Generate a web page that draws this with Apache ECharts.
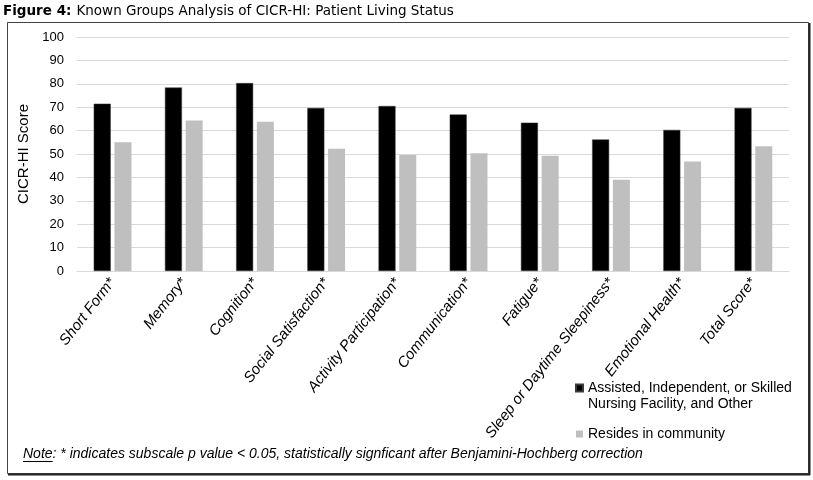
<!DOCTYPE html>
<html>
<head>
<meta charset="utf-8">
<script src="https://cdn.jsdelivr.net/npm/echarts@6/dist/echarts.min.js"></script>
<style>
html,body{margin:0;padding:0;background:#fff;}
#chart{width:813px;height:480px;}
</style>
</head>
<body>
<div id="chart"></div>
<script>
const categories = ['Short Form*','Memory*','Cognition*','Social Satisfaction*','Activity Participation*','Communication*','Fatigue*','Sleep or Daytime Sleepiness*','Emotional Health*','Total Score*'];
const facilityValues = [71.5, 78.4, 80.3, 69.7, 70.5, 66.9, 63.4, 56.2, 60.3, 69.7];
const communityValues = [55.0, 64.3, 63.8, 52.2, 49.6, 50.3, 49.2, 39.0, 46.8, 53.3];
const seriesNames = ['Assisted, Independent, or Skilled Nursing Facility, and Other', 'Resides in community'];
const yTicks = {min: 0, max: 100, interval: 10};

const noteLead = 'Note';
const noteRest = ': * indicates subscale p value < 0.05, statistically signficant after Benjamini-Hochberg correction';

const FONT = '"Liberation Sans", Arial, sans-serif';
const noteFontSize = 14;
const cv = document.createElement('canvas').getContext('2d');
cv.font = 'italic ' + noteFontSize + 'px "Liberation Sans"';
const noteLeadW = cv.measureText(noteLead).width;
const noteX = 23, noteY = 454;

const chart = echarts.init(document.getElementById('chart'));
chart.setOption({
  animation: false,
  backgroundColor: '#fff',
  title: {
    text: '{b|Figure 4:} {n|Known Groups Analysis of CICR-HI: Patient Living Status}',
    left: 3, top: 2, padding: 0,
    textStyle: {
      rich: {
        b: {fontFamily: '"DejaVu Sans", sans-serif', fontWeight: 'bold', fontSize: 13.5, color: '#000'},
        n: {fontFamily: '"DejaVu Sans", sans-serif', fontWeight: 'normal', fontSize: 13.5, color: '#000'}
      }
    }
  },
  grid: {left: 77, right: 24, top: 37, bottom: 209, containLabel: false},
  legend: {
    orient: 'vertical', left: 570, top: 359,
    itemWidth: 7, itemHeight: 7, itemGap: 14, icon: 'rect',
    formatter: function (name) {
      if (name === seriesNames[0]) return '\nAssisted, Independent, or Skilled\nNursing Facility, and Other';
      return name;
    },
    textStyle: {fontFamily: FONT, fontSize: 14, color: '#000', lineHeight: 16},
    data: seriesNames
  },
  xAxis: {
    type: 'category', data: categories,
    axisLine: {lineStyle: {color: '#d9d9d9'}},
    axisTick: {show: false},
    axisLabel: {interval: 0, rotate: 52, fontStyle: 'italic', fontFamily: FONT, fontSize: 15, color: '#000', margin: 9}
  },
  yAxis: {
    type: 'value', min: yTicks.min, max: yTicks.max, interval: yTicks.interval,
    name: 'CICR-HI Score', nameLocation: 'middle', nameGap: 34,
    nameTextStyle: {fontFamily: FONT, fontSize: 15, color: '#000'},
    axisLine: {show: false}, axisTick: {show: false},
    axisLabel: {fontFamily: FONT, fontSize: 13, color: '#000', margin: 13},
    splitLine: {lineStyle: {color: '#d9d9d9'}}
  },
  series: [
    {name: seriesNames[0], type: 'bar', data: facilityValues, barWidth: 17, barGap: '22%',
     itemStyle: {color: '#000', borderColor: '#3a3a3a', borderWidth: 0.5}},
    {name: seriesNames[1], type: 'bar', data: communityValues, barWidth: 17,
     itemStyle: {color: '#bfbfbf'}}
  ],
  graphic: [
    {type: 'rect', silent: true, shape: {x: 7.5, y: 22.5, width: 801, height: 451},
     style: {fill: 'none', stroke: '#444', lineWidth: 1}},
    {type: 'line', silent: true, shape: {x1: 809.5, y1: 23, x2: 809.5, y2: 475}, style: {stroke: '#222', lineWidth: 2}},
    {type: 'line', silent: true, shape: {x1: 8, y1: 474.5, x2: 810, y2: 474.5}, style: {stroke: '#222', lineWidth: 2}},
    {type: 'text', silent: true, x: noteX, y: noteY,
     style: {text: noteLead + noteRest, font: 'italic ' + noteFontSize + 'px "Liberation Sans"', fill: '#000', verticalAlign: 'middle'}},
    {type: 'line', silent: true, shape: {x1: noteX, y1: noteY + 7.5, x2: noteX + noteLeadW, y2: noteY + 7.5}, style: {stroke: '#000', lineWidth: 1}}
  ]
});
</script>
</body>
</html>
